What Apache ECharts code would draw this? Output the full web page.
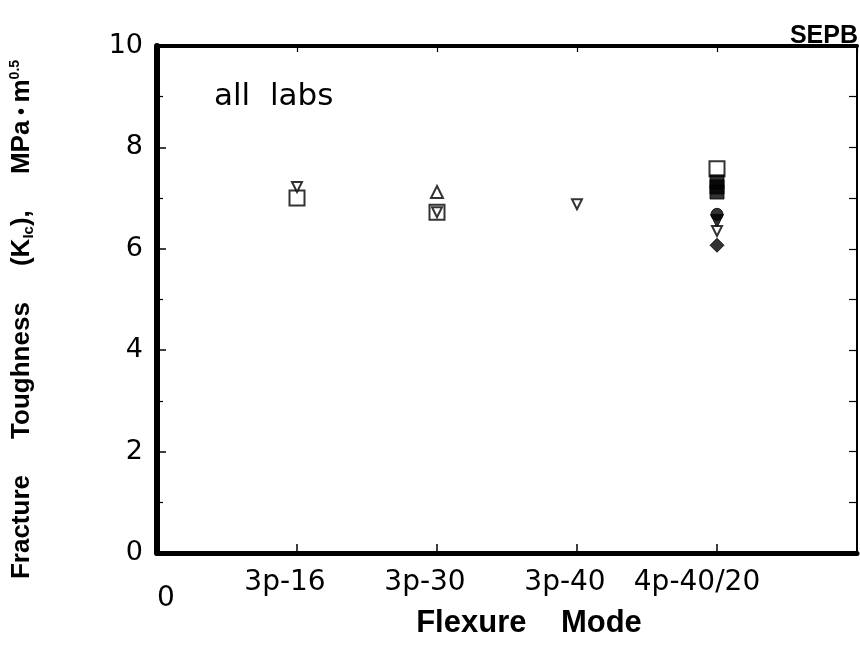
<!DOCTYPE html>
<html>
<head>
<meta charset="utf-8">
<script src="https://cdn.jsdelivr.net/npm/echarts@6/dist/echarts.min.js"></script>
<style>html,body{margin:0;padding:0;background:#fff}#c{width:860px;height:654px}</style>
</head>
<body>
<div id="c"></div>
<script>
const categories = ['3p-16', '3p-30', '3p-40', '4p-40/20'];
const yTicks = [0, 2, 4, 6, 8, 10];
// [category position (1-based), K_Ic]
const openSquare = [[1, 7.0], [2, 6.72], [4, 7.58]];
const openTriangle = [[2, 7.12]];
const openInvTriangle = [[1, 7.22], [2, 6.72], [3, 6.88], [4, 6.35]];
const filledSquare = [[4, 7.32], [4, 7.22], [4, 7.12]];
const filledCircle = [[4, 6.68]];
const filledInvTriangle = [[4, 6.55]];
const filledDiamond = [[4, 6.07]];

const font = 'Liberation Sans, Arial, Helvetica, sans-serif';
const wfont = 'DejaVu Sans, Liberation Sans, sans-serif';
const openStyle = { color: '#fff', borderColor: '#000', borderWidth: 2 };
const fillStyle = { color: '#000', borderColor: '#000', borderWidth: 1 };

function sc(name, data, symbol, size, style, rotate) {
  return {
    name: name, type: 'scatter', data: data, symbol: symbol, symbolSize: size,
    symbolRotate: rotate || 0, itemStyle: style, xAxisIndex: 0, yAxisIndex: 0, z: 5
  };
}

const chart = echarts.init(document.getElementById('c'), null, { renderer: 'canvas' });
chart.setOption({
  animation: false,
  backgroundColor: '#fff',
  grid: { left: 157, right: 2, top: 46, bottom: 101, containLabel: false },
  title: {
    text: 'SEPB', right: -3, top: 19,
    textStyle: { fontFamily: font, fontWeight: 'bold', fontSize: 25, color: '#000' }
  },
  graphic: [{
    type: 'text', left: 214, top: 81,
    style: { text: 'all  labs', font: '31px ' + wfont, fill: '#000' }
  }],
  xAxis: [{
    type: 'value', min: 0, max: 5, interval: 1, position: 'bottom',
    axisLine: { show: true, onZero: false, lineStyle: { color: '#000', width: 5 } },
    axisTick: { show: true, inside: true, length: 9, lineStyle: { color: '#000', width: 1.5 } },
    splitLine: { show: false },
    axisLabel: {
      margin: 16, fontFamily: wfont, fontSize: 28, color: '#000',
      formatter: function (v) {
        if (v === 0) return '{z|0}';
        if (v === 4) return '{d|' + categories[3] + '}';
        if (v >= 1 && v <= categories.length) return '{c|' + categories[v - 1] + '}';
        return '';
      },
      rich: {
        z: { fontFamily: wfont, fontSize: 28, color: '#000', padding: [16, 0, 0, 18] },
        c: { fontFamily: wfont, fontSize: 28, color: '#000', padding: [0, 24, 0, 0] },
        d: { fontFamily: wfont, fontSize: 28, color: '#000', padding: [0, 40, 0, 0] }
      }
    },
    name: 'Flexure    Mode', nameLocation: 'middle', nameGap: 55, nameMoveOverlap: false,
    nameTextStyle: { fontFamily: font, fontWeight: 'bold', fontSize: 31, color: '#000', padding: [0, 0, 0, 44] }
  }, {
    type: 'value', min: 0, max: 5, interval: 1, position: 'top',
    axisLine: { show: true, onZero: false, lineStyle: { color: '#000', width: 4 } },
    axisTick: { show: true, inside: true, length: 6, lineStyle: { color: '#000', width: 1.2 } },
    axisLabel: { show: false }, splitLine: { show: false }
  }],
  yAxis: [{
    type: 'value', min: 0, max: 10, interval: 2, position: 'left',
    axisLine: { show: true, onZero: false, lineStyle: { color: '#000', width: 6 } },
    axisTick: { show: true, inside: true, length: 9, lineStyle: { color: '#000', width: 1.5 } },
    minorTick: { show: true, splitNumber: 2, length: 6, lineStyle: { color: '#000', width: 1.2 } },
    splitLine: { show: false },
    axisLabel: {
      margin: 14, fontFamily: wfont, fontSize: 27, color: '#000',
      formatter: function (v) { return yTicks.indexOf(v) >= 0 ? String(v) : ''; }
    },
    name: 'Fracture     Toughness     (K{sub|Ic}),     MPa{b| • }m{sup|0.5}',
    nameLocation: 'middle', nameGap: 121, nameRotate: 90, nameMoveOverlap: false,
    nameTextStyle: {
      fontFamily: font, fontWeight: 'bold', fontSize: 26, color: '#000', padding: [0, 40, 0, 0],
      rich: {
        sub: { fontFamily: font, fontWeight: 'bold', fontSize: 15, color: '#000', verticalAlign: 'bottom', padding: [12, 0, 0, 0] },
        sup: { fontFamily: font, fontWeight: 'bold', fontSize: 14, color: '#000', verticalAlign: 'top', padding: [0, 0, 14, 0] },
        b: { fontFamily: font, fontWeight: 'bold', fontSize: 20, color: '#000' }
      }
    }
  }, {
    type: 'value', min: 0, max: 10, interval: 1, position: 'right',
    axisLine: { show: true, onZero: false, lineStyle: { color: '#000', width: 2 } },
    axisTick: { show: true, inside: true, length: 8, lineStyle: { color: '#000', width: 1.2 } },
    axisLabel: { show: false }, splitLine: { show: false }
  }],
  series: [
    sc('open square', openSquare, 'rect', 15, openStyle),
    sc('open triangle', openTriangle, 'triangle', 12, openStyle),
    sc('filled square', filledSquare, 'rect', 14, fillStyle),
    sc('filled circle', filledCircle, 'circle', 12, fillStyle),
    sc('filled inverted triangle', filledInvTriangle, 'triangle', 13, fillStyle, 180),
    sc('open inverted triangle', openInvTriangle, 'triangle', 10, openStyle, 180),
    sc('filled diamond', filledDiamond, 'diamond', 14, fillStyle)
  ]
});
</script>
</body>
</html>
